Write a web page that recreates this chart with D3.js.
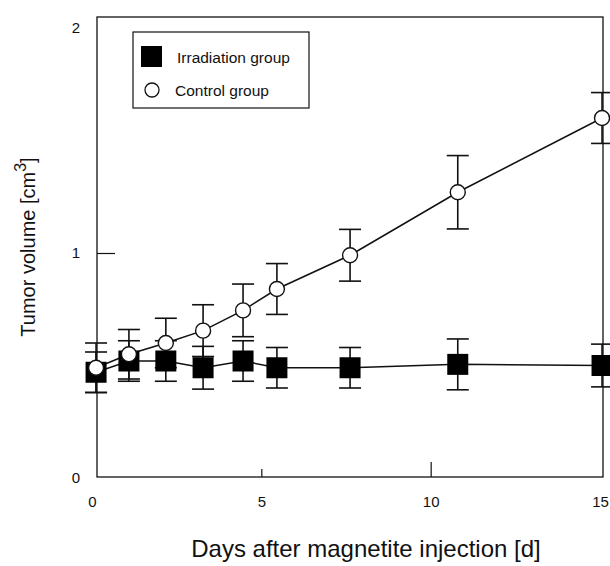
<!DOCTYPE html>
<html>
<head>
<meta charset="utf-8">
<script src="https://cdn.jsdelivr.net/npm/d3@7"></script>
<style>
  body { margin: 0; background: #fff; }
  svg text { font-family: "Liberation Sans", Arial, Helvetica, sans-serif; fill: #111; }
</style>
</head>
<body>
<div id="chart"></div>
<script>
(function () {

  // Data
  const days = [0.12, 1.09, 2.18, 3.28, 4.46, 5.46, 7.62, 10.8, 15.06]
  const irradiationMean = [0.47, 0.52, 0.52, 0.49, 0.52, 0.49, 0.49, 0.505, 0.50]
  const irradiationSD = [0.09, 0.09, 0.09, 0.095, 0.09, 0.09, 0.09, 0.113, 0.095]
  const controlMean = [0.49, 0.55, 0.60, 0.655, 0.745, 0.84, 0.99, 1.27, 1.60]
  const controlSD = [0.11, 0.11, 0.11, 0.115, 0.117, 0.113, 0.115, 0.163, 0.113]
  const xTicks = [0, 5, 10, 15]
  const yTicks = [0, 1, 2]
  const legendLabels = ["Irradiation group", "Control group"]

  // Margin convention
  const margin = { top: 17, right: 7, bottom: 89, left: 97 }
  const width = 610 - margin.left - margin.right
  const height = 566 - margin.top - margin.bottom

  const svg = d3.select("#chart").append("svg")
      .attr("width", width + margin.left + margin.right)
      .attr("height", height + margin.top + margin.bottom)
    .append("g")
      .attr("transform", "translate(" + margin.left + "," + margin.top + ")")

  // scanned axis: day 0 sits a little left of the frame
  const x = d3.scaleLinear().domain([0, 15]).range([-5, 503])
  const y = d3.scaleLinear().domain([0, 2]).range([461, 11])

  const irr = days.map((d, i) => ({ day: d, v: irradiationMean[i], sd: irradiationSD[i] }))
  const ctl = days.map((d, i) => ({ day: d, v: controlMean[i], sd: controlSD[i] }))

  // Frame
  svg.append("rect")
    .attr("width", width)
    .attr("height", height)
    .attr("fill", "none")
    .attr("stroke", "#111")
    .attr("stroke-width", 1.3)

  // Axes (ticks point inward)
  const xAxis = svg.append("g")
    .attr("transform", "translate(0," + height + ")")
    .call(d3.axisBottom(x).tickValues(xTicks).tickFormat(d3.format("d"))
      .tickSizeInner(-10).tickSizeOuter(0).tickPadding(19))
    .attr("font-size", 15)
    .attr("font-family", null)
  xAxis.select(".domain").remove()
  xAxis.selectAll(".tick line").attr("stroke", "#111").attr("stroke-width", 1.2)
    .attr("y2", d => d === 10 ? -15 : -8)
    .attr("display", d => (d === 0 || d === 15) ? "none" : null)

  const yAxis = svg.append("g")
    .call(d3.axisLeft(y).tickValues(yTicks).tickFormat(d3.format("d"))
      .tickSizeInner(-18).tickSizeOuter(0).tickPadding(17))
    .attr("font-size", 15)
    .attr("font-family", null)
  yAxis.select(".domain").remove()
  yAxis.selectAll(".tick line").attr("stroke", "#111").attr("stroke-width", 1.2)
    .attr("display", d => d === 1 ? null : "none")

  // Lines
  const line = d3.line().x(d => x(d.day)).y(d => y(d.v))
  ;[irr, ctl].forEach(series => {
    svg.append("path")
      .datum(series)
      .attr("fill", "none")
      .attr("stroke", "#111")
      .attr("stroke-width", 1.5)
      .attr("d", line)
  })

  // Error bars
  const cap = 11
  function errorBars(series) {
    const g = svg.append("g").attr("stroke", "#111").attr("stroke-width", 1.6)
    g.selectAll(".bar").data(series).join("line")
      .attr("x1", d => x(d.day)).attr("x2", d => x(d.day))
      .attr("y1", d => y(d.v - d.sd)).attr("y2", d => y(d.v + d.sd))
    g.selectAll(".capTop").data(series).join("line")
      .attr("x1", d => x(d.day) - cap).attr("x2", d => x(d.day) + cap)
      .attr("y1", d => y(d.v + d.sd)).attr("y2", d => y(d.v + d.sd))
    g.selectAll(".capBottom").data(series).join("line")
      .attr("x1", d => x(d.day) - cap).attr("x2", d => x(d.day) + cap)
      .attr("y1", d => y(d.v - d.sd)).attr("y2", d => y(d.v - d.sd))
  }
  errorBars(irr)
  errorBars(ctl)

  // Markers
  svg.selectAll(".sq").data(irr).join("rect")
    .attr("x", d => x(d.day) - 10.5)
    .attr("y", d => y(d.v) - 10.5)
    .attr("width", 21)
    .attr("height", 21)
    .attr("fill", "#000")

  svg.selectAll(".ci").data(ctl).join("circle")
    .attr("cx", d => x(d.day))
    .attr("cy", d => y(d.v))
    .attr("r", 7.5)
    .attr("fill", "#fff")
    .attr("stroke", "#111")
    .attr("stroke-width", 1.4)

  // Legend
  const legend = svg.append("g").attr("transform", "translate(36,15)")
  legend.append("rect")
    .attr("width", 176).attr("height", 76)
    .attr("fill", "#fff").attr("stroke", "#111").attr("stroke-width", 1.2)
  legend.append("rect")
    .attr("x", 8).attr("y", 14).attr("width", 21).attr("height", 21).attr("fill", "#000")
  legend.append("circle")
    .attr("cx", 19).attr("cy", 58).attr("r", 7)
    .attr("fill", "#fff").attr("stroke", "#111").attr("stroke-width", 1.3)
  legend.selectAll(".lab").data(legendLabels).join("text")
    .attr("x", (d, i) => i === 0 ? 44 : 42)
    .attr("y", (d, i) => i === 0 ? 31 : 64)
    .style("font-size", "15.5px")
    .text(d => d)

  // Axis titles
  svg.append("text")
    .attr("text-anchor", "middle")
    .attr("x", 269)
    .attr("y", 540)
    .style("font-size", "24px")
    .text("Days after magnetite injection [d]")

  const yTitle = svg.append("text")
    .attr("text-anchor", "middle")
    .attr("transform", "translate(-62,230) rotate(-90)")
    .style("font-size", "20px")
  yTitle.append("tspan").text("Tumor volume [cm")
  yTitle.append("tspan").attr("dy", -9).style("font-size", "16px").text("3")
  yTitle.append("tspan").attr("dy", 9).text("]")

})();
</script>
</body>
</html>
